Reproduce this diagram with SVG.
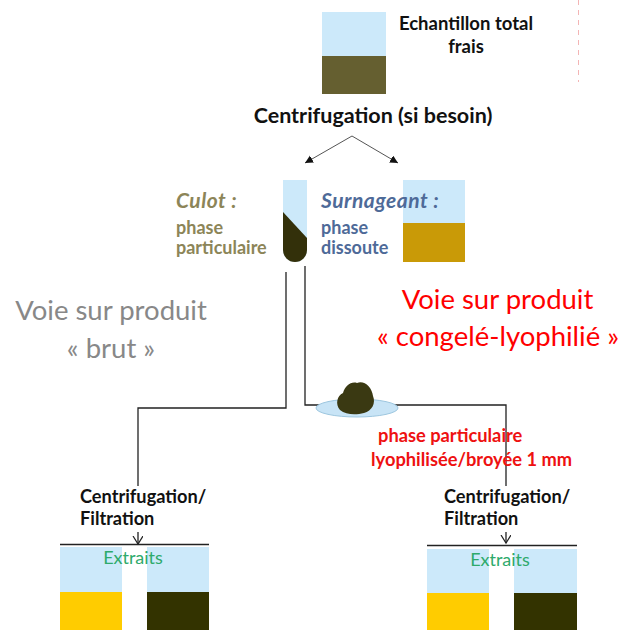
<svg xmlns="http://www.w3.org/2000/svg" width="638" height="630" viewBox="0 0 638 630">
  <style>
    text { font-family: Lato, "Open Sans", "Liberation Sans", sans-serif; }
    .b { font-weight: bold; }
    .blk { fill: #111111; }
    .water { fill: #CCE9FA; }
    .yellow { fill: #FFCC00; }
    .dark { fill: #333300; }
    .conn { fill: none; stroke: #222222; stroke-width: 1.3; }
    .thin { fill: none; stroke: #555555; stroke-width: 1; }
    .route { font-size: 27.5px; }
    .head { font-size: 21px; font-style: italic; letter-spacing: 0.5px; }
    .sub { font-size: 18px; }
  </style>
  <defs>
    <marker id="tri" markerUnits="userSpaceOnUse" markerWidth="10" markerHeight="10" refX="8" refY="4" orient="auto">
      <path d="M0,0 L8,4 L0,8 Z" fill="#111111"/>
    </marker>
    <marker id="vee" markerUnits="userSpaceOnUse" markerWidth="12" markerHeight="12" refX="8" refY="5" orient="auto">
      <path d="M0,0 L8,5 L0,10" fill="none" stroke="#222222" stroke-width="1.2"/>
    </marker>
  </defs>

  <rect width="638" height="630" fill="#FFFFFF"/>

  <!-- faint dashed guide on the right -->
  <line x1="578.5" y1="0" x2="578.5" y2="82" stroke="#F3B5B5" stroke-width="1" stroke-dasharray="5,5"/>

  <!-- connectors -->
  <g id="connectors">
    <line class="thin" x1="352" y1="136" x2="305" y2="163" marker-end="url(#tri)"/>
    <line class="thin" x1="352" y1="136" x2="398" y2="163" marker-end="url(#tri)"/>
    <polyline class="conn" points="286,272 286,408 138,408 138,544" marker-end="url(#vee)"/>
    <polyline class="conn" points="305,266 305,405 506,405 506,543" marker-end="url(#vee)"/>
    <line class="conn" x1="60" y1="544.5" x2="209" y2="544.5"/>
    <line class="conn" x1="427" y1="545.5" x2="577" y2="545.5"/>
  </g>

  <!-- fresh total sample -->
  <g id="sample-total">
    <rect class="water" x="322" y="12" width="64" height="44"/>
    <rect x="322" y="56" width="64" height="38" fill="#655F30"/>
    <text class="b blk" x="466" y="30" font-size="18.5" text-anchor="middle">Echantillon total</text>
    <text class="b blk" x="466" y="53" font-size="18.5" text-anchor="middle">frais</text>
  </g>

  <g id="centrifugation">
    <text class="b blk" x="373" y="123" font-size="21.5" text-anchor="middle">Centrifugation (si besoin)</text>
  </g>

  <!-- pellet tube -->
  <g id="culot">
    <path class="water" d="M283,180 H307 V250 A12,12 0 0 1 283,250 Z"/>
    <path d="M283,212 L307,238 V250 A12,12 0 0 1 283,250 Z" fill="#33300A"/>
    <text class="b head" x="176" y="208" fill="#8C8558">Culot :</text>
    <text class="b sub" x="176" y="234" fill="#8C8558">phase</text>
    <text class="b sub" x="176" y="254" fill="#8C8558">particulaire</text>
  </g>

  <!-- supernatant -->
  <g id="surnageant">
    <rect class="water" x="403" y="180" width="62" height="43"/>
    <rect x="403" y="223" width="62" height="39" fill="#C99A07"/>
    <text class="b head" x="321" y="208" fill="#4E6A98">Surnageant :</text>
    <text class="b sub" x="321" y="234" fill="#4E6A98">phase</text>
    <text class="b sub" x="321" y="254" fill="#4E6A98">dissoute</text>
  </g>

  <!-- route labels -->
  <g id="voie-brut">
    <text class="route" x="111" y="320" fill="#888888" text-anchor="middle">Voie sur produit</text>
    <text class="route" x="111" y="358" fill="#888888" text-anchor="middle">« brut »</text>
  </g>
  <g id="voie-lyophilise">
    <text class="route" x="497.5" y="309" fill="#FF0000" text-anchor="middle">Voie sur produit</text>
    <text class="route" x="498" y="346" fill="#FF0000" text-anchor="middle">« congelé-lyophilié »</text>
  </g>

  <!-- freeze-dried pellet on a dish -->
  <g id="lyophilise">
    <ellipse cx="357" cy="408" rx="41" ry="9" fill="#C8E4F6" stroke="#9CC6DF" stroke-width="1"/>
    <path d="M340,410 C335,404 337,396 343,393 C345,386 351,381 357,383 C364,380 372,387 373,396 C376,403 372,411 364,413 C356,415 346,415 340,410 Z" fill="#3A3912"/>
    <text class="b" x="378" y="442" font-size="18.3" fill="#EE1111">phase particulaire</text>
    <text class="b" x="371" y="466" font-size="18.3" fill="#EE1111">lyophilisée/broyée 1 mm</text>
  </g>

  <!-- left extraction -->
  <g id="extraction-brut">
    <rect x="78" y="486" width="130" height="46" fill="#FFFFFF"/>
    <text class="b blk" x="80" y="503" font-size="18.2">Centrifugation/</text>
    <text class="b blk" x="80" y="525" font-size="18.2">Filtration</text>
    <rect class="water" x="60" y="547" width="62" height="45"/>
    <rect class="yellow" x="60" y="592" width="62" height="38"/>
    <rect class="water" x="147" y="547" width="62" height="45"/>
    <rect class="dark" x="147" y="592" width="62" height="38"/>
    <text x="133" y="564" font-size="18" fill="#2EAA6B" text-anchor="middle">Extraits</text>
  </g>

  <!-- right extraction -->
  <g id="extraction-lyophilise">
    <rect x="442" y="486" width="130" height="46" fill="#FFFFFF"/>
    <text class="b blk" x="444" y="503" font-size="18.2">Centrifugation/</text>
    <text class="b blk" x="444" y="525" font-size="18.2">Filtration</text>
    <rect class="water" x="427" y="549" width="62" height="44"/>
    <rect class="yellow" x="427" y="593" width="62" height="37"/>
    <rect class="water" x="514" y="549" width="63" height="44"/>
    <rect class="dark" x="514" y="593" width="63" height="37"/>
    <text x="500" y="566" font-size="18" fill="#2EAA6B" text-anchor="middle">Extraits</text>
  </g>
</svg>
